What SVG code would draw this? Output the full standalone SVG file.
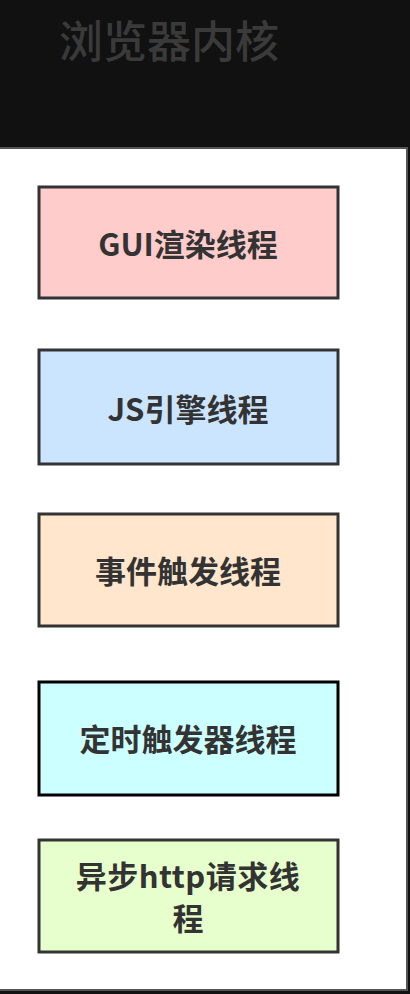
<svg xmlns="http://www.w3.org/2000/svg" width="410" height="994" viewBox="0 0 410 994">
<style>
.box{stroke:#333;stroke-width:3}
.lbl{font-family:"Noto Sans CJK SC","Noto Sans",sans-serif;font-weight:bold;font-size:31px;fill:#333;text-anchor:middle}
.title{font-family:"Noto Sans CJK SC","Noto Sans",sans-serif;font-weight:500;font-size:44px;fill:#3a3a3a;text-anchor:middle}
</style>
<rect x="0" y="0" width="410" height="994" fill="#111"/>
<rect id="container" x="-5" y="148" width="412" height="842" fill="#fff" stroke="#555" stroke-width="2"/>
<text class="title" x="169" y="58">浏览器内核</text>
<g id="connectors"></g>
<g id="gui"><rect class="box" x="39" y="187" width="299" height="111" fill="#ffcccc"/><text class="lbl" x="188" y="256">GUI渲染线程</text></g>
<g id="js"><rect class="box" x="39" y="350" width="299" height="114" fill="#cce5ff"/><text class="lbl" x="188" y="421">JS引擎线程</text></g>
<g id="event"><rect class="box" x="39" y="514" width="299" height="112" fill="#ffe6cc"/><text class="lbl" x="188" y="583">事件触发线程</text></g>
<g id="timer"><rect x="39" y="682" width="299" height="113" fill="#ccffff" stroke="#000" stroke-width="3"/><text class="lbl" x="188" y="751">定时触发器线程</text></g>
<g id="http"><rect class="box" x="39" y="840" width="299" height="112" fill="#e6ffcc"/><text class="lbl" x="188" y="888" letter-spacing="0.5">异步http请求线</text><text class="lbl" x="188" y="930">程</text></g>
</svg>
